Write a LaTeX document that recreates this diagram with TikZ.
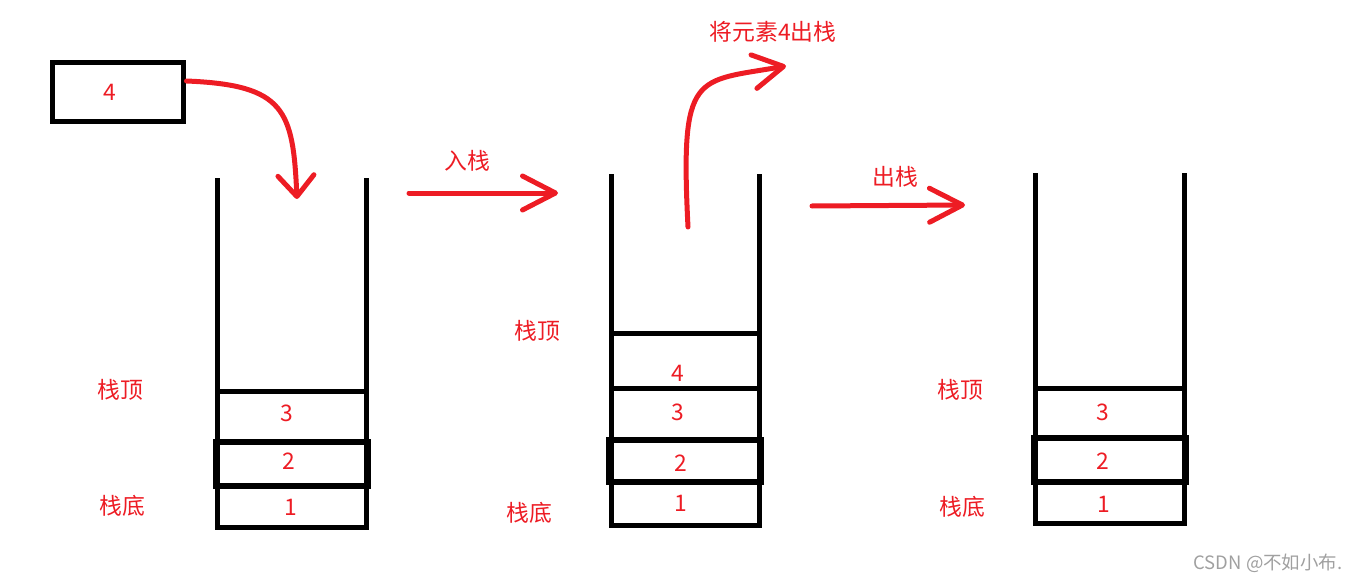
\documentclass[tikz,border=0pt]{standalone}
\usepackage{fontspec}
\setmainfont{Noto Sans CJK SC}
\usetikzlibrary{arrows.meta}
\definecolor{rouge}{RGB}{237,28,36}
\definecolor{filigrane}{RGB}{160,160,160}
\tikzset{
	mur/.style		= {line width=0.1cm},
	epais/.style	= {line width=0.12cm},
	fleche/.style	= {rouge, line width=0.1cm, line cap=round},
	texte/.style	= {text=rouge, inner sep=0pt, font=\fontsize{13}{15}\selectfont},
}
\begin{document}
\begin{tikzpicture}[x=0.02cm, y=-0.02cm]
				% Cadre
				\useasboundingbox		(0,0)		rectangle	(1359,581)	;
				% Boite
				\node [draw, mur, minimum width=2.64cm, minimum height=1.2cm, inner sep=0pt]
										(boite)	at	(118,92)	{}	;
				\path					(110,92)	node	[texte]	(val)	{4}	;
				% Pile 1
				\draw [mur]				(217,178)	-- (217,527) -- (366,527) -- (366,178)	;
				\draw [mur]				(217,391)	-- (366,391)	;
				\draw [epais]			(216,442)	rectangle	(368,486)	;
				% Pile 2
				\draw [mur]				(611,174)	-- (611,525) -- (759,525) -- (759,174)	;
				\draw [mur]				(611,333)	-- (759,333)	;
				\draw [mur]				(611,388)	-- (759,388)	;
				\draw [epais]			(609,440)	rectangle	(761,482)	;
				% Pile 3
				\draw [mur]				(1035,173)	-- (1035,523) -- (1184,523) -- (1184,173)	;
				\draw [mur]				(1035,388)	-- (1184,388)	;
				\draw [epais]			(1034,438)	rectangle	(1186,482)	;
				% Elements
				\path					(287,413)	node	[texte]	(a3)	{3}	;
				\path					(289,461)	node	[texte]	(a2)	{2}	;
				\path					(291,507)	node	[texte]	(a1)	{1}	;
				\path					(678,373)	node	[texte]	(b4)	{4}	;
				\path					(678,412)	node	[texte]	(b3)	{3}	;
				\path					(681,463)	node	[texte]	(b2)	{2}	;
				\path					(681,503)	node	[texte]	(b1)	{1}	;
				\path					(1103,412)	node	[texte]	(c3)	{3}	;
				\path					(1103,461)	node	[texte]	(c2)	{2}	;
				\path					(1104,504)	node	[texte]	(c1)	{1}	;
				% Sommets et fonds
				\path					(120,390)	node	[texte]	(hautA)	{栈顶}	;
				\path					(122,506)	node	[texte]	(basA)	{栈底}	;
				\path					(537,331)	node	[texte]	(hautB)	{栈顶}	;
				\path					(529,513)	node	[texte]	(basB)	{栈底}	;
				\path					(960,390)	node	[texte]	(hautC)	{栈顶}	;
				\path					(962,507)	node	[texte]	(basC)	{栈底}	;
				% Legendes
				\path					(467,161)	node	[texte]	(entree)	{入栈}	;
				\path					(895,177)	node	[texte]	(sortie)	{出栈}	;
				\path					(773,32)	node	[texte]	(depile)	{将元素4出栈}	;
				\path					(1268,563)	node	[text=filigrane, inner sep=0pt, font=\fontsize{10.5}{12}\selectfont]
															(csdn)	{CSDN @不如小布.}	;
				% Points
				\coordinate				(chute)		at	(297,199)	;
				\coordinate				(d1)		at	(409,193)	;
				\coordinate				(f1)		at	(558,193)	;
				\coordinate				(d2)		at	(812,206)	;
				\coordinate				(f2)		at	(965,205)	;
				\coordinate				(creux)		at	(688,227)	;
				\coordinate				(sort)		at	(786,66)	;
				% Fleches
				\draw [fleche, -{Straight Barb[length=0.42cm, width=0.72cm, round]}]
						([yshift=0.22cm]boite.east)	.. controls (285,85) and (293,110)	.. (chute)	;
				\draw [fleche, -{Straight Barb[length=0.66cm, width=0.68cm, round]}]	(d1)	-- (f1)	;
				\draw [fleche, -{Straight Barb[length=0.66cm, width=0.68cm, round]}]	(d2)	-- (f2)	;
				\draw [fleche, -{Straight Barb[length=0.6cm, width=0.68cm, round]}]
						(creux)	.. controls (680,70) and (695,82)	.. (sort)	;
			\end{tikzpicture}
\end{document}
